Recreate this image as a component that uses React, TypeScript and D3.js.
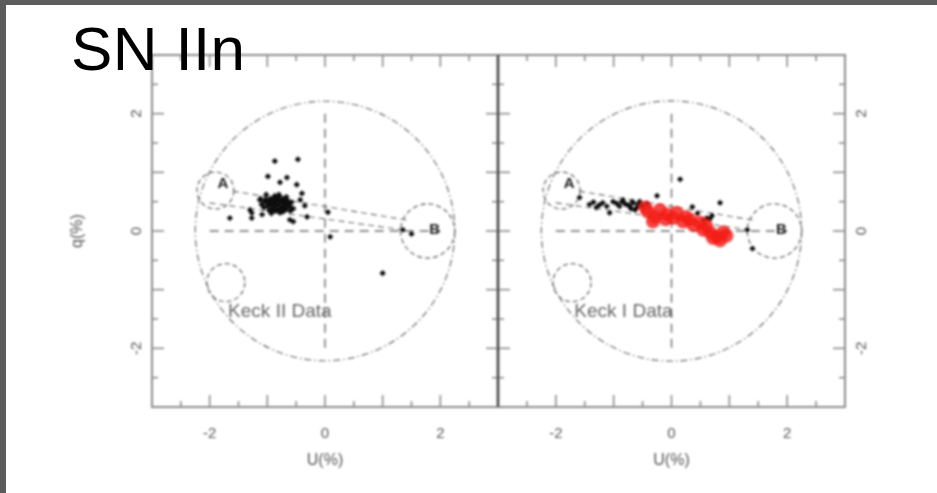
import React from "react";
import * as d3 from "d3";

const W = 937;
const H = 493;

// Stokes U, Q (percent) of the Keck II epoch
const keckIIU = [
  -1.05, -1.0, -0.95, -0.92, -0.9, -0.88, -0.85, -0.83, -0.8, -0.78, -0.75, -0.72, -0.7, -0.68, -0.65, -0.62,
  -0.6, -0.97, -1.1, -1.12, -0.87, -0.8, -0.73, -0.93, -1.02, -0.58, -0.55, -0.67, -0.9, -0.84, -0.76, -0.86,
  -0.95, -0.7, -0.82, -1.0, -0.77, -0.88, -0.87, -0.47, -0.99, -0.78, -0.66, -0.49, -1.13, -0.43, -1.3, -1.27,
  -1.09, -0.61, -0.31, -1.65, 1.0, 0.05, 0.09, -0.4, -0.35, 1.35, 1.5, -0.55, -1.27,
  -0.98, -0.92, -0.85, -0.79, -0.74, -0.69, -0.64, -0.81, -0.89, -0.96, -1.06, -0.71, -0.6, -0.83, -0.93,
  -0.78, -0.67, -1.03, -0.86, -0.74,
];
const keckIIQ = [
  0.5, 0.42, 0.55, 0.47, 0.4, 0.52, 0.45, 0.38, 0.5, 0.43, 0.56, 0.41, 0.48, 0.36, 0.52, 0.44,
  0.4, 0.35, 0.45, 0.55, 0.6, 0.62, 0.33, 0.3, 0.62, 0.49, 0.38, 0.58, 0.5, 0.49, 0.47, 0.42,
  0.45, 0.44, 0.55, 0.48, 0.39, 0.35, 1.19, 1.22, 0.93, 0.83, 0.91, 0.79, 0.53, 0.53, 0.36, 0.22,
  0.28, 0.19, 0.24, 0.22, -0.72, 0.32, -0.1, 0.64, 0.43, 0.02, -0.05, 0.16, 0.31,
  0.44, 0.37, 0.34, 0.36, 0.4, 0.38, 0.46, 0.58, 0.57, 0.52, 0.4, 0.52, 0.34, 0.45, 0.5,
  0.31, 0.42, 0.54, 0.48, 0.5,
];

// Stokes U, Q (percent) of the Keck I epoch, continuum bins
const keckIU = [
  -1.42, -1.19, -1.01, -0.84, -0.68, -0.58, -0.63, -0.49, -0.75, -0.9, -1.3, -0.55, 0.36, 0.61, 0.7, 0.15,
  1.31, 1.4, 0.45, -1.59, -1.07, -0.25, -0.95, -1.12, 0.84, -0.42,
  -0.8, -0.72, -0.66, -0.6, -0.52, -0.86, -0.7, -1.25, -1.35, 0.55, 0.66,
];
const keckIQ = [
  0.45, 0.48, 0.5, 0.53, 0.5, 0.45, 0.36, 0.41, 0.44, 0.42, 0.4, 0.5, 0.41, 0.22, 0.26, 0.88,
  0.02, -0.3, 0.3, 0.57, 0.31, 0.6, 0.47, 0.42, 0.48, 0.47,
  0.46, 0.42, 0.48, 0.4, 0.44, 0.5, 0.38, 0.44, 0.49, 0.18, 0.2,
];

// Keck I line-profile bins
const lineU = [
  -0.41, -0.29, -0.2, -0.08, 0.03, 0.09, 0.2, 0.32, 0.38, 0.5, 0.55, 0.67, 0.79, 0.9, 0.72, 0.84,
  -0.32, -0.45, 0.6, 0.25, -0.1, 0.95,
];
const lineQ = [
  0.33, 0.24, 0.36, 0.28, 0.22, 0.31, 0.16, 0.19, 0.1, 0.14, 0.02, -0.03, -0.1, -0.02, -0.12, -0.16,
  0.16, 0.4, 0.08, 0.24, 0.2, -0.08,
];

// Reference loops
const loopU = [-1.9, 1.78, -1.72];
const loopQ = [0.69, 0.0, -0.88];
const loopR = [0.32, 0.47, 0.33];
const outerRadius = 2.25;

// Labelled points
const markNames = ["A", "B"];
const markU = [-1.77, 1.9];
const markQ = [0.82, 0.04];

// Dashed tracks between A and B
const trackU0 = [-1.6, -2.0];
const trackQ0 = [0.68, 0.48];
const trackU1 = [1.45, 1.35];
const trackQ1 = [0.18, 0.02];

const tickValues = d3.range(-2.5, 2.51, 0.5);
const tickLabels = [-2, 0, 2];
const dataLabels = ["Keck II Data", "Keck I Data"];

const TOP = 55;
const BOTTOM = 407;
const PANEL_EDGES = [152, 498, 845];

const frameColor = "#8c8c8c";
const guideColor = "#6e6e6e";
const font = "Liberation Sans, Arial, sans-serif";

const fmt = (v: number) => (v === 0 ? "0" : v < 0 ? "-" + Math.abs(v) : String(v));

function Panel({ idx }: { idx: number }) {
  const left = PANEL_EDGES[idx];
  const right = PANEL_EDGES[idx + 1];
  const x = d3.scaleLinear().domain([-3, 3]).range([left, right]);
  const y = d3.scaleLinear().domain([-3, 3]).range([BOTTOM, TOP]);
  const k = x(1) - x(0);
  const isMajor = (v: number) => Math.abs(v - Math.round(v)) < 1e-6;
  const tl = (v: number) => (isMajor(v) ? 12 : 6);

  const ptsU = idx === 0 ? keckIIU : keckIU;
  const ptsQ = idx === 0 ? keckIIQ : keckIQ;

  const dashDot = "7,3,1.5,3";
  const labelX = idx === 0 ? left - 17 : right + 15;

  return (
    <g>
      {/* frame */}
      <rect x={left} y={TOP} width={right - left} height={BOTTOM - TOP} fill="none" stroke={frameColor} strokeWidth={2} />
      {tickValues.map((v) => (
        <g key={"t" + v} stroke={frameColor} strokeWidth={1.6}>
          <line x1={x(v)} x2={x(v)} y1={BOTTOM} y2={BOTTOM - tl(v)} />
          <line x1={x(v)} x2={x(v)} y1={TOP} y2={TOP + tl(v)} />
          <line x1={left} x2={left + tl(v)} y1={y(v)} y2={y(v)} />
          <line x1={right} x2={right - tl(v)} y1={y(v)} y2={y(v)} />
        </g>
      ))}
      {tickLabels.map((v) => (
        <text key={"xl" + v} x={x(v)} y={438} textAnchor="middle" fontSize={15} fill="#555" fontFamily={font}>
          {fmt(v)}
        </text>
      ))}
      {tickLabels.map((v) => (
        <text key={"yl" + v} transform={`translate(${labelX},${y(v)}) rotate(-90)`} textAnchor="middle"
          dominantBaseline="central" fontSize={15} fill="#555" fontFamily={font}>
          {fmt(v)}
        </text>
      ))}
      <text x={x(0)} y={465} textAnchor="middle" fontSize={16} fill="#555" fontFamily={font}>U(%)</text>
      {idx === 0 && (
        <text transform={`translate(82,${y(0)}) rotate(-90)`} textAnchor="middle" fontSize={16} fill="#555"
          fontFamily={font}>q(%)</text>
      )}

      {/* guides */}
      <circle cx={x(0)} cy={y(0)} r={outerRadius * k} fill="none" stroke={guideColor} strokeWidth={1.2} strokeDasharray={dashDot} />
      <line x1={x(0)} x2={x(0)} y1={y(2)} y2={y(-2)} stroke={guideColor} strokeWidth={1.4} strokeDasharray="9,6" />
      <line x1={x(-2)} x2={x(2)} y1={y(0)} y2={y(0)} stroke={guideColor} strokeWidth={1.4} strokeDasharray="9,6" />
      {loopU.map((u, i) => (
        <circle key={"lp" + i} cx={x(u)} cy={y(loopQ[i])} r={loopR[i] * k} fill="none" stroke={guideColor}
          strokeWidth={1.3} strokeDasharray="5,3" />
      ))}
      {trackU0.map((u, i) => (
        <line key={"tr" + i} x1={x(u)} y1={y(trackQ0[i])} x2={x(trackU1[i])} y2={y(trackQ1[i])}
          stroke={guideColor} strokeWidth={1.1} strokeDasharray="6,4" />
      ))}
      {markNames.map((m, i) => (
        <text key={m} x={x(markU[i])} y={y(markQ[i])} textAnchor="middle" dominantBaseline="central"
          fontSize={15} fontWeight="bold" fill="#1a1a1a" fontFamily={font}>{m}</text>
      ))}
      <text x={x(-1.68)} y={y(-1.36)} dominantBaseline="central" fontSize={19} fill="#666" fontFamily={font}>
        {dataLabels[idx]}
      </text>

      {/* data */}
      {ptsU.map((u, i) => (
        <g key={"p" + i}>
          <line x1={x(u) - 3} x2={x(u) + 3} y1={y(ptsQ[i])} y2={y(ptsQ[i])} stroke="#222" strokeWidth={0.9} />
          <line x1={x(u)} x2={x(u)} y1={y(ptsQ[i]) - 3} y2={y(ptsQ[i]) + 3} stroke="#222" strokeWidth={0.9} />
          <circle cx={x(u)} cy={y(ptsQ[i])} r={2.4} fill="#111" />
        </g>
      ))}
      {idx === 1 &&
        lineU.map((u, i) => (
          <circle key={"r" + i} cx={x(u)} cy={y(lineQ[i])} r={7} fill="#f41d16" fillOpacity={0.8} />
        ))}
    </g>
  );
}

export default function App() {
  return (
    <svg width={W} height={H} style={{ position: "absolute", left: 0, top: 0, background: "#fff" }}>
      <defs>
        <filter id="soft" x="-5%" y="-5%" width="110%" height="110%">
          <feGaussianBlur stdDeviation={0.9} />
        </filter>
      </defs>
      <rect x={0} y={0} width={W} height={H} fill="#fff" />
      <g filter="url(#soft)">
        <Panel idx={0} />
        <Panel idx={1} />
        <line x1={PANEL_EDGES[1]} x2={PANEL_EDGES[1]} y1={TOP} y2={BOTTOM} stroke="#444" strokeWidth={2.6} />
      </g>
      <text x={71} y={70} fontSize={62} textLength={174} fill="#000" fontFamily={font}>SN IIn</text>
      <rect x={0} y={0} width={W} height={5} fill="#5c5c5c" />
      <rect x={0} y={0} width={6} height={H} fill="#5c5c5c" />
    </svg>
  );
}
